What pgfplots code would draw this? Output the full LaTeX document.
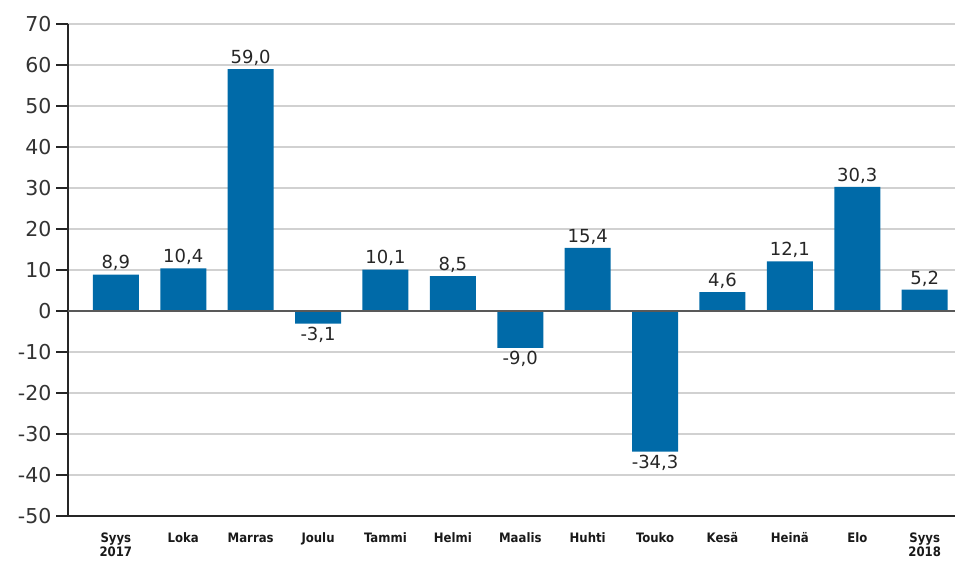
\documentclass[border=0pt]{standalone}
\usepackage{pgfplots}
\pgfplotsset{compat=1.18}
\usepackage{fontspec}
\setmainfont{DejaVu Sans}
\newfontfamily\condb{DejaVu Sans Condensed}
\definecolor{barblue}{RGB}{0,106,168}
\begin{document}
\begin{tikzpicture}
\begin{axis}[name=ax,
  width=887pt, height=492pt, scale only axis,
  xmin=-0.71, xmax=12.45, ymin=-50, ymax=70,
  axis x line=bottom, axis y line=left,
  axis line style={-, line width=1.6pt, color=black!85},
  ytick={-50,-40,...,70},
  ymajorgrids, grid style={line width=1.7pt, color=black!18},
  xtick={0,...,12},
  xticklabels={{Syys\\2017},Loka,Marras,Joulu,Tammi,Helmi,Maalis,Huhti,Touko,Kesä,Heinä,Elo,{Syys\\2018}},
  xtick style={draw=none},
  ytick style={line width=1.6pt, color=black!85},
  tick align=outside, major tick length=12pt,
  /pgf/number format/assume math mode=true,
  yticklabel style={font=\fontsize{20.5}{23}\selectfont, color=black!80, xshift=-1pt},
  xticklabel style={align=center, font=\condb\bfseries\fontsize{13}{14}\selectfont, color=black!90, yshift=-1pt},
]
\addplot[ybar, bar width=46pt, fill=barblue, draw=none,
  nodes near coords={\pgfmathprintnumber[fixed,fixed zerofill,precision=1,use comma,assume math mode=true]{\pgfplotspointmeta}},
  nodes near coords align={vertical},
  every node near coord/.append style={font=\fontsize{18}{20}\selectfont, color=black!85},
  point meta=y]
coordinates {(0,8.9) (1,10.4) (2,59.0) (3,-3.1) (4,10.1) (5,8.5) (6,-9.0) (7,15.4) (8,-34.3) (9,4.6) (10,12.1) (11,30.3) (12,5.2)};
\addplot[line width=2pt, color=black!65] coordinates {(-0.71,0) (12.45,0)};
\end{axis}
\pgfresetboundingbox
\path[use as bounding box] ([xshift=-68pt,yshift=-45pt]ax.south west) rectangle ([yshift=24pt]ax.north east);
\end{tikzpicture}
\end{document}
